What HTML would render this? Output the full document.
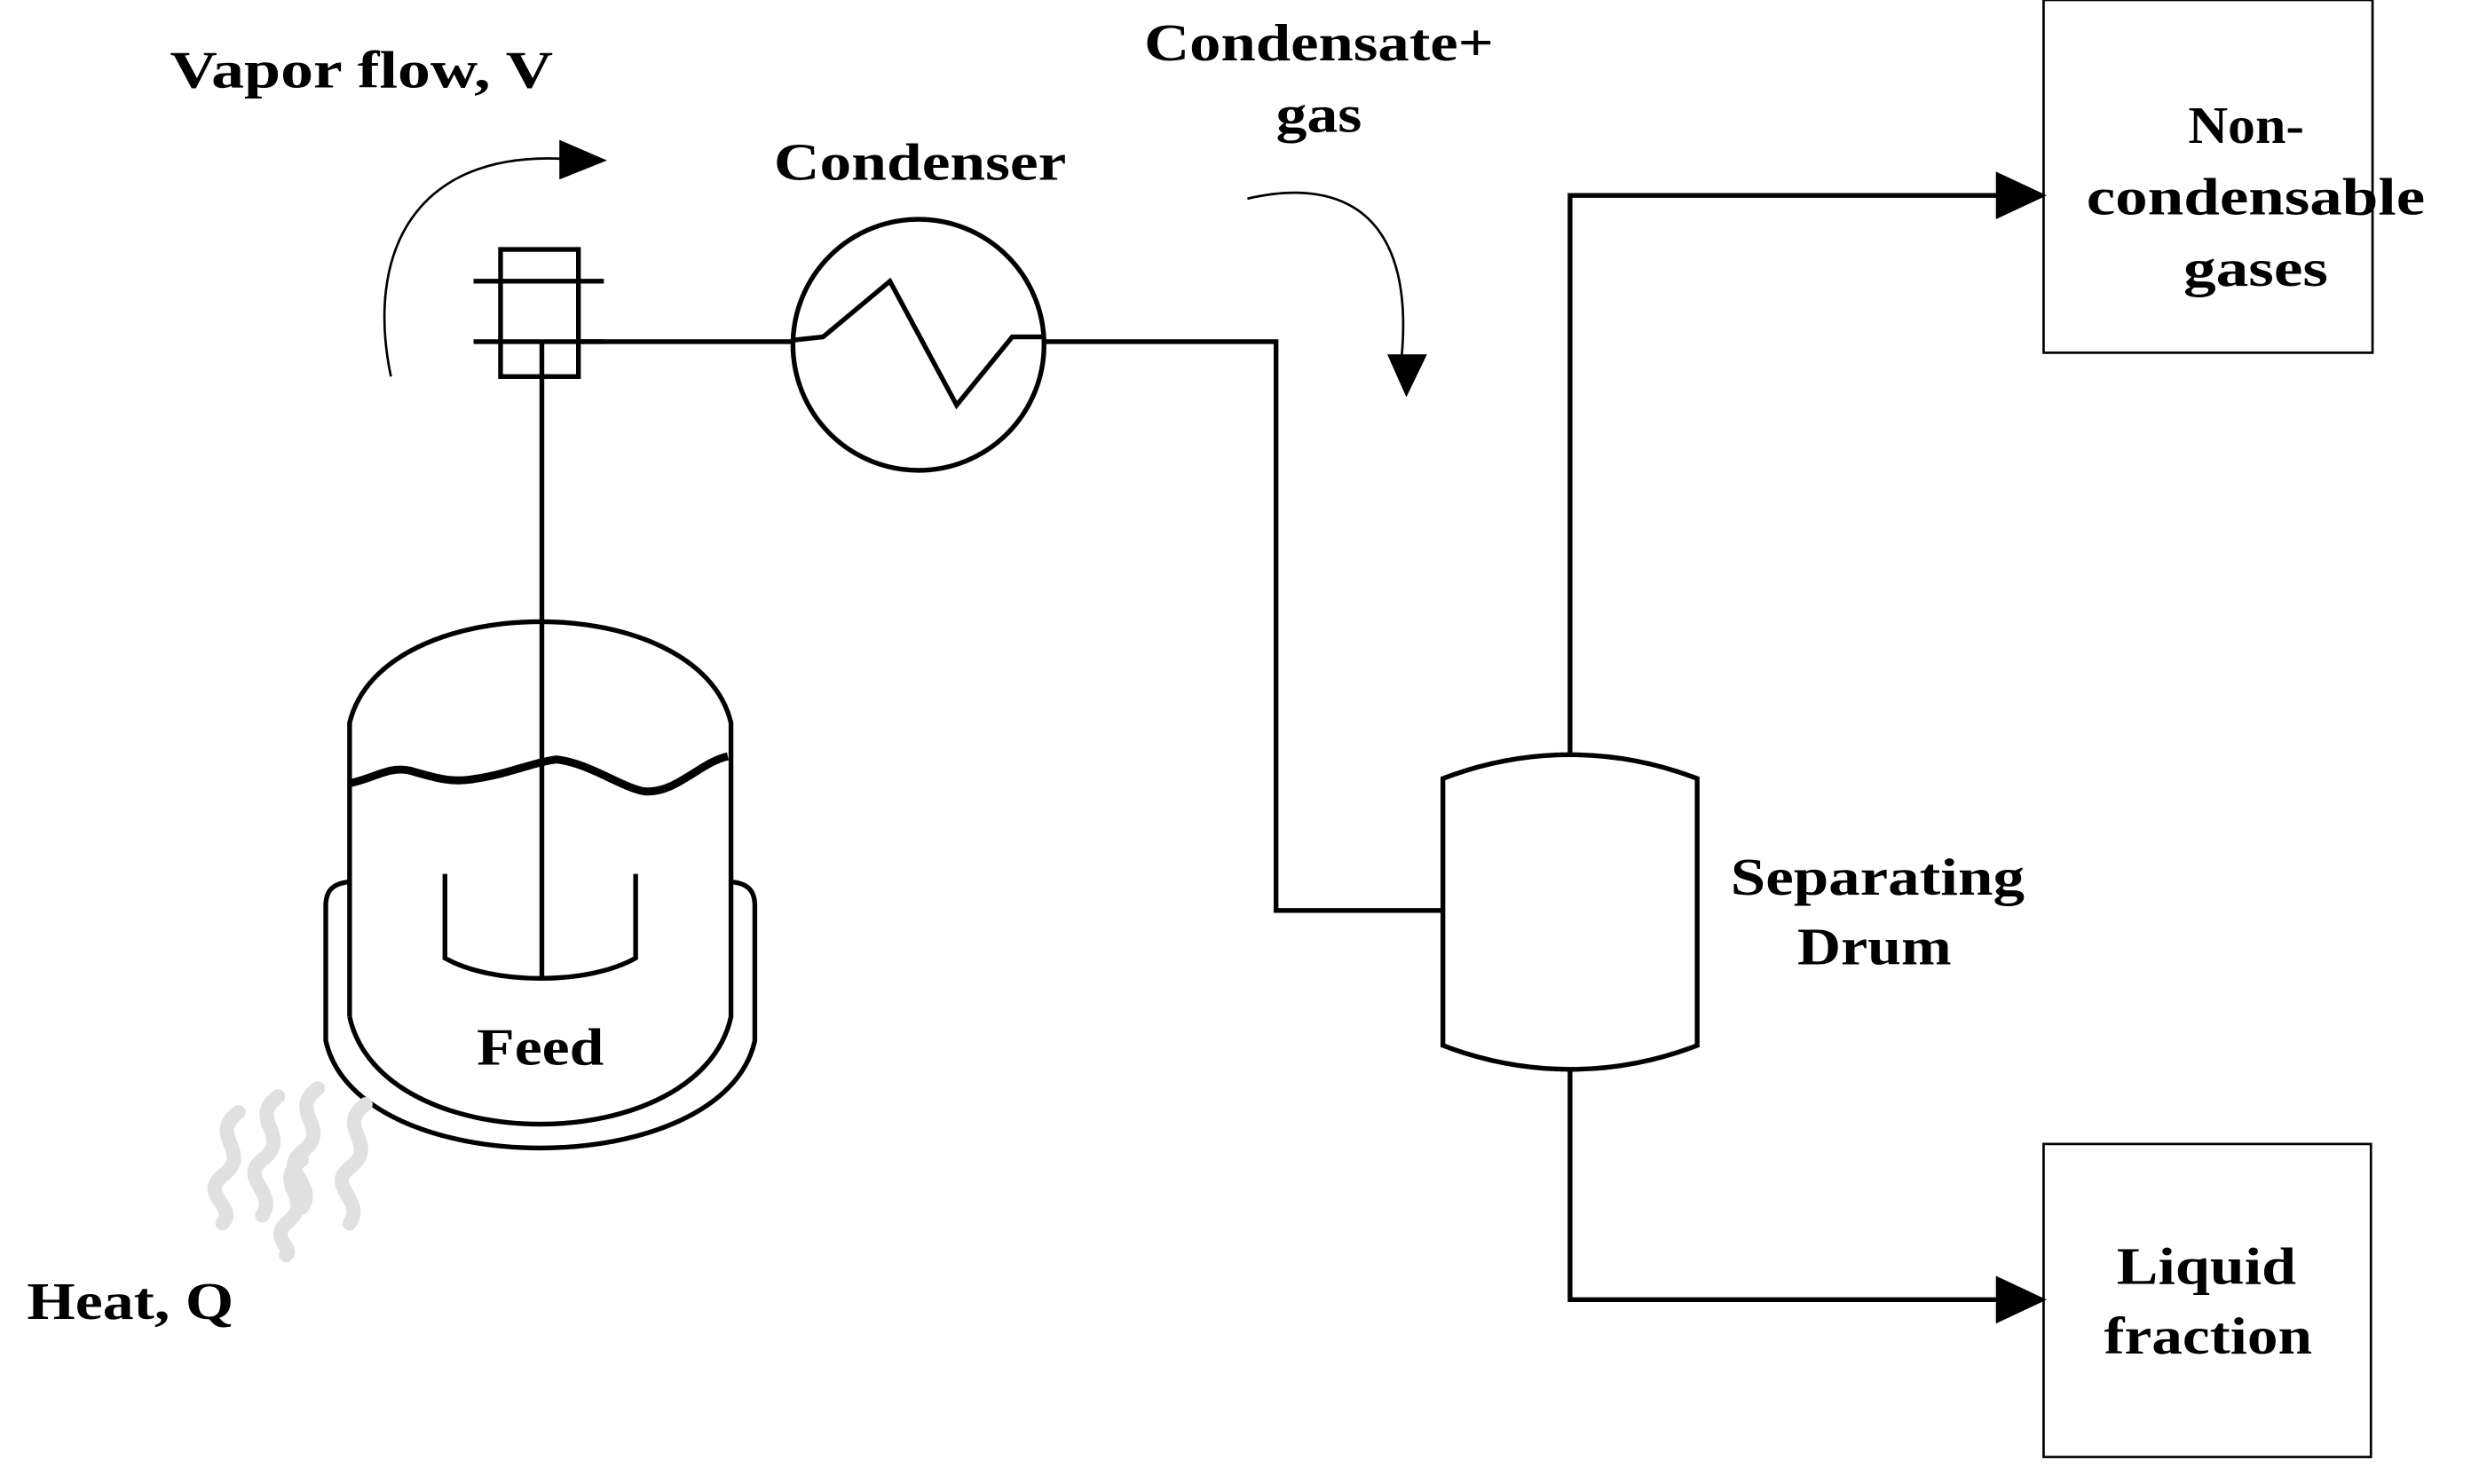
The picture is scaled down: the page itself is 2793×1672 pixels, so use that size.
<!DOCTYPE html>
<html><head><meta charset="utf-8"><style>
html,body{margin:0;padding:0;background:#fff}
svg{display:block}
text{font-family:"Liberation Serif",serif;font-weight:bold;font-size:33px;fill:#000}
</style></head><body>
<svg width="2793" height="1672" viewBox="0 0 1560 934" preserveAspectRatio="none" xmlns="http://www.w3.org/2000/svg">
<g fill="none" stroke="#000" stroke-width="3">
<path d="M246,237 C230,160 260,95 355,100" stroke-width="1.5"/>
<rect x="315" y="157" width="49" height="80"/>
<line x1="298" y1="177" x2="380" y2="177"/>
<line x1="298" y1="215" x2="380" y2="215"/>
<line x1="341" y1="215" x2="341" y2="615"/>
<line x1="364" y1="215" x2="500" y2="215"/>
<circle cx="578" cy="217" r="79"/>
<polyline points="500,214 518,212 560,177 602,255 637,212 657,212"/>
<polyline points="657,215 803,215 803,573 908,573"/>
<path d="M785,125 C850,110 890,140 882,225" stroke-width="1.5"/>
<path d="M220,640 L220,455 C240,370 440,370 460,455 L460,640 C440,730 240,730 220,640"/>
<path d="M220,555 C208,556 205,562 205,570 L205,655 C225,745 455,745 475,655 L475,570 C475,562 472,556 460,555"/>
<path d="M220,493 C235,490 245,482 258,485 C275,490 285,493 300,490 C320,487 335,480 350,478 C370,480 390,495 405,498 C425,500 440,480 458,476" stroke-width="5"/>
<path d="M280,550 L280,603 C310,620 370,620 400,603 L400,550"/>
<path d="M908,490 C960,470 1016,470 1068,490 L1068,658 C1016,678 960,678 908,658 Z"/>
<polyline points="988,475 988,123 1262,123"/>
<polyline points="988,672 988,818 1262,818"/>
<rect x="1286" y="0" width="207" height="222" stroke-width="1.5"/>
<rect x="1286" y="720" width="206" height="197" stroke-width="1.5"/>
</g>
<g fill="#000">
<polygon points="352,88 382,101 352,113"/>
<polygon points="873,223 898,223 885,250"/>
<polygon points="1256,108 1288,123 1256,138"/>
<polygon points="1256,803 1288,818 1256,833"/>
</g>
<g fill="none" stroke="#e0e0e0" stroke-width="9" stroke-linecap="round">
<path d="M150,700 C130,715 160,725 140,740 C125,752 150,760 140,770"/>
<path d="M175,690 C155,705 185,715 165,730 C150,742 175,750 165,765"/>
<path d="M200,685 C180,700 210,710 190,725 C175,737 200,745 190,760"/>
<path d="M230,695 C210,710 240,720 220,735 C205,747 230,755 220,770"/>
<path d="M190,730 C170,745 200,755 180,770 C170,780 185,785 180,790"/>
</g>
<g lengthAdjust="spacingAndGlyphs">
<text x="107" y="55" textLength="241" lengthAdjust="spacingAndGlyphs">Vapor flow, V</text>
<text x="487" y="113" textLength="184" lengthAdjust="spacingAndGlyphs">Condenser</text>
<text x="720" y="38" textLength="220" lengthAdjust="spacingAndGlyphs">Condensate+</text>
<text x="803" y="83" textLength="54" lengthAdjust="spacingAndGlyphs">gas</text>
<text x="300" y="670" textLength="80" lengthAdjust="spacingAndGlyphs">Feed</text>
<text x="17" y="830" textLength="130" lengthAdjust="spacingAndGlyphs">Heat, Q</text>
<text x="1089" y="563" textLength="185" lengthAdjust="spacingAndGlyphs">Separating</text>
<text x="1131" y="607" textLength="97" lengthAdjust="spacingAndGlyphs">Drum</text>
<text x="1377" y="90" textLength="73" lengthAdjust="spacingAndGlyphs">Non-</text>
<text x="1313" y="135" textLength="213" lengthAdjust="spacingAndGlyphs">condensable</text>
<text x="1374" y="180" textLength="91" lengthAdjust="spacingAndGlyphs">gases</text>
<text x="1332" y="808" textLength="113" lengthAdjust="spacingAndGlyphs">Liquid</text>
<text x="1324" y="852" textLength="131" lengthAdjust="spacingAndGlyphs">fraction</text>
</g>
</svg>
</body></html>
